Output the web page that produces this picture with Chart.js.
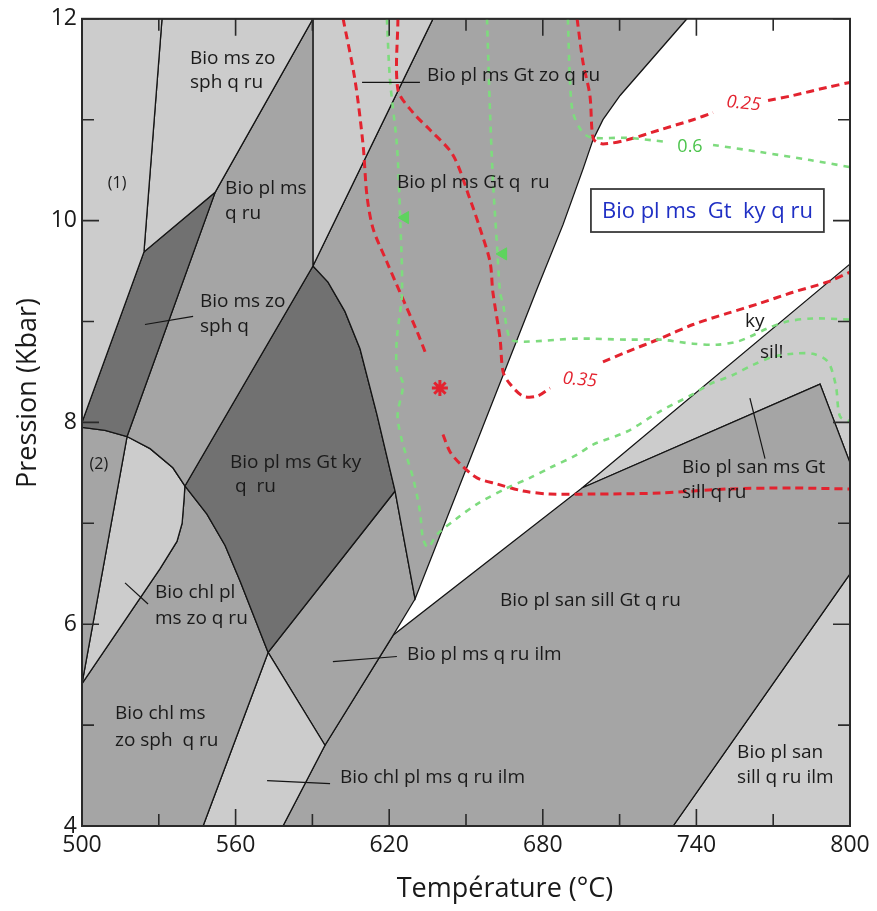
<!DOCTYPE html>
<html><head><meta charset="utf-8">
<script src="https://cdn.jsdelivr.net/npm/chart.js@4/dist/chart.umd.min.js"></script>
<style>html,body{margin:0;padding:0;background:#fff}canvas{display:block}</style>
</head><body>
<canvas id="c" width="877" height="911"></canvas>
<script>
// ---- axes ----
const T_RANGE = [500, 800];
const P_RANGE = [4, 12];
const T_TICK_STEP = 60;
const P_TICK_STEP = 2;
const T_MINOR = [500,530,560,590,620,650,680,710,740,770,800];
const P_MINOR = [4,5,6,7,8,9,10,11,12];

// ---- stability fields [T (°C), P (kbar)] ----
const fieldOne        = [[500,12],[531.25,12],[524.2,9.69],[500,8.0]];
const fieldMsZoSphQRu = [[531.25,12],[590.2,12],[552,10.28],[524.2,9.69]];
const fieldMsZoSphQ   = [[500,8.0],[524.2,9.69],[552,10.28],[517.6,7.86],[509,7.92],[500,7.95]];
const fieldPlMsQRu    = [[590.2,12],[590.2,9.55],[540.2,7.37],[535.5,7.55],[526.6,7.74],[517.6,7.86],[552,10.28]];
const fieldGtZo       = [[590.2,12],[637.1,12],[590.2,9.55]];
const fieldGtQRu      = [[637.1,12],[736.3,12],[710.2,11.24],[703.5,11.0],[699.6,10.80],[695.7,10.51],[687.9,9.96],[677.7,9.32],[630.1,6.25],[622.3,7.32],[615.2,8.08],[608.6,8.73],[602.7,9.10],[596.1,9.39],[590.2,9.55]];
const fieldGtKyQRu    = [[590.2,9.55],[596.1,9.39],[602.7,9.10],[608.6,8.73],[615.2,8.08],[622.3,7.32],[572.7,5.72],[561.7,6.43],[555.9,6.78],[548.8,7.09],[540.2,7.37]];
const fieldTwo        = [[500,7.95],[509,7.92],[517.6,7.86],[500,5.41]];
const fieldChlPlZo    = [[500,5.41],[517.6,7.86],[526.6,7.74],[535.5,7.55],[540.2,7.37],[539.8,7.22],[539.1,7.0],[537.1,6.82],[530.5,6.55]];
const fieldChlMsZo    = [[500,4],[500,5.41],[530.5,6.55],[537.1,6.82],[539.1,7.0],[539.8,7.22],[540.2,7.37],[548.8,7.09],[555.9,6.78],[561.7,6.43],[572.7,5.72],[547.3,4]];
const fieldChlPlIlm   = [[547.3,4],[572.7,5.72],[594.9,4.8],[578.5,4]];
const fieldPlMsIlm    = [[572.7,5.72],[622.3,7.32],[630.1,6.25],[621.5,5.89],[594.9,4.8]];
const fieldSanSillGt  = [[578.5,4],[594.9,4.8],[621.5,5.89],[695.3,7.35],[788.3,8.38],[800,7.6],[800,6.5],[730.9,4]];
const fieldSanMsGt    = [[695.3,7.35],[800,9.57],[800,7.6],[788.3,8.38]];
const fieldSanIlm     = [[730.9,4],[800,6.5],[800,4]];

// ---- isopleths ----
const redIso025a = [[693.4,12],[695.7,11.57],[698.4,11.24],[699.2,10.90],[700,10.80],[703.5,10.76],[712.9,10.80],[725.8,10.90],[738.7,11.0],[746.5,11.07]];
const redIso025b = [[768,11.19],[777.7,11.24],[791,11.32],[800,11.37]];
const redIso035a = [[623.4,12],[623.4,11.30],[629.3,11.07],[635.9,10.90],[644.9,10.65],[651.6,10.21],[655.5,9.92],[659.4,9.59],[660.5,9.29],[663.3,8.83],[664.5,8.50],[667.2,8.38],[672.3,8.26],[677.7,8.26],[682.8,8.34]];
const redIso035b = [[703.5,8.60],[712.9,8.70],[725.8,8.83],[738.7,8.97],[752,9.08],[764.8,9.18],[777.7,9.29],[791,9.39],[800,9.49]];
const redIsoWest = [[602,12],[606.6,11.40],[609.8,10.75],[611.3,10.25],[613.7,9.92],[619.1,9.59],[624.2,9.29],[630.9,8.90],[634,8.70]];
const redIsoLow  = [[641,7.88],[643.75,7.71],[647.7,7.59],[654.3,7.45],[662.1,7.39],[672.3,7.32],[682.8,7.29],[699.6,7.29],[725.8,7.30],[752,7.34],[777.7,7.35],[800,7.34]];
const greenIso06a = [[689.8,12],[690.6,11.40],[691.8,11.07],[695.7,10.87],[699.6,10.82],[712.9,10.82],[728.5,10.78]];
const greenIso06b = [[746.5,10.75],[764.8,10.68],[784.4,10.60],[800,10.53]];
const greenIsoWest = [[619.1,12],[620.3,11.40],[623,10.75],[624.2,10.08],[625,9.29],[623,8.83],[623,8.53],[625.4,8.38],[623.4,8.11],[623.4,8.01],[625.4,7.78],[629.3,7.45],[632,7.12],[633.2,6.85],[635.2,6.76],[638.7,6.89],[646.5,7.05],[654.3,7.19],[666,7.35],[675,7.45],[682.8,7.55],[693.4,7.68],[699.6,7.78],[712.9,7.91],[725.8,8.11],[738.7,8.28],[745.3,8.38],[754.3,8.47],[762.1,8.57],[769.9,8.65],[777.7,8.68],[785.5,8.68],[791.4,8.60],[794.5,8.36],[796.1,8.06],[800,8.01]];
const greenIsoMid = [[658.2,12],[659.4,11.07],[660.5,10.41],[662.1,9.76],[663.3,9.29],[664.5,9.17],[667.2,8.83],[672.3,8.80],[693.4,8.83],[712.9,8.82],[725.8,8.82],[738.7,8.78],[748,8.77],[755.9,8.80],[760.9,8.85],[767.6,8.93],[775.4,9.0],[785.5,9.03],[800,9.02]];
const greenMarks = [[626.2,10.03],[664.5,9.67]];
const redMarks = [[639.8,8.34]];

// ---- leader lines ----
const leader1 = [[609.4,11.37],[632,11.37]];
const leader2 = [[524.6,8.97],[543.4,9.05]];
const leader3 = [[516.8,6.41],[525.8,6.20]];
const leader4 = [[598,5.63],[623,5.68]];
const leader5 = [[572.3,4.45],[596.9,4.42]];
const leader6 = [[760.9,8.24],[766.8,7.64]];

// ---- texts [text, T, P] ----
const fieldLabels = [
 ['Bio ms zo',542.2,11.61],['sph q ru',542.2,11.37],
 ['Bio pl ms',555.9,10.32],['q ru',555.9,10.07],
 ['Bio pl ms Gt zo q ru',634.8,11.44],
 ['Bio pl ms Gt q  ru',623.0,10.38],
 ['Bio ms zo',546.1,9.20],['sph q',546.1,8.95],
 ['Bio pl ms Gt ky',557.8,7.60],[' q  ru',557.8,7.36],
 ['Bio chl pl',528.5,6.31],['ms zo q ru',528.5,6.06],
 ['Bio chl ms',512.9,5.11],['zo sph  q ru',512.9,4.85],
 ['Bio pl ms q ru ilm',627.0,5.70],
 ['Bio pl san sill Gt q ru',663.3,6.23],
 ['Bio chl pl ms q ru ilm',600.8,4.48],
 ['Bio pl san',755.9,4.73],['sill q ru ilm',755.9,4.48],
 ['Bio pl san ms Gt',734.4,7.55],['sill q ru',734.4,7.30],
 ['ky',759.0,9.0],['sil!',764.8,8.69]
];
const smallLabels = [['(1)',513.7,10.37],['(2)',506.6,7.58]];
const redValueLabels = [['0.25',758.4,11.16],['0.35',694.5,8.42]];
const greenValueLabels = [['0.6',737.5,10.73]];
const boxLabel = ['Bio pl ms  Gt  ky q ru',744.3,10.10];

const LIGHT='#cccccc', MED='#a5a5a5', DARK='#717171';
const RED='#e3232f', GREEN='#7edb7e';
const FONT='"Open Sans", "Liberation Sans", sans-serif';

const toXY = a => a.map(([x,y])=>({x,y}));
const poly = (a,c) => ({data: toXY([...a, a[0]]), showLine:true, fill:'shape', backgroundColor:c,
  borderColor:'#151515', borderWidth:1.3, pointRadius:0, tension:0, order:10});
const iso = (a,c,w,d) => ({data: toXY(a), showLine:true, fill:false, borderColor:c, borderWidth:w,
  borderDash:d, borderCapStyle:'butt', pointRadius:0, tension:0.3, order:3});
const leader = a => ({data: toXY(a), showLine:true, fill:false, borderColor:'#151515', borderWidth:1.2, pointRadius:0, order:2});

const datasets = [
 poly(fieldOne,LIGHT), poly(fieldMsZoSphQRu,LIGHT), poly(fieldMsZoSphQ,DARK), poly(fieldPlMsQRu,MED),
 poly(fieldGtZo,LIGHT), poly(fieldGtQRu,MED), poly(fieldGtKyQRu,DARK), poly(fieldTwo,MED),
 poly(fieldChlPlZo,LIGHT), poly(fieldChlMsZo,MED), poly(fieldChlPlIlm,LIGHT), poly(fieldPlMsIlm,MED),
 poly(fieldSanSillGt,MED), poly(fieldSanMsGt,LIGHT), poly(fieldSanIlm,LIGHT),
 iso(greenIso06a,GREEN,2.6,[6,6]), iso(greenIso06b,GREEN,2.6,[6,6]), iso(greenIsoWest,GREEN,2.6,[6,6]), iso(greenIsoMid,GREEN,2.6,[6,6]),
 iso(redIso025a,RED,3,[8,5]), iso(redIso025b,RED,3,[8,5]), iso(redIso035a,RED,3,[8,5]), iso(redIso035b,RED,3,[8,5]),
 iso(redIsoWest,RED,3,[8,5]), iso(redIsoLow,RED,3,[8,5]),
 {data: toXY(greenMarks), showLine:false, pointStyle:'triangle', rotation:270, pointRadius:7, backgroundColor:'#5ed45e', borderColor:'#5ed45e', order:1},
 {data: toXY(redMarks), showLine:false, pointStyle:'star', pointRadius:8, borderWidth:3, backgroundColor:RED, borderColor:RED, order:1},
 leader(leader1), leader(leader2), leader(leader3), leader(leader4), leader(leader5), leader(leader6)
];

const decor = {
 id:'decor',
 afterDatasetsDraw(chart){
  const {ctx, chartArea:a, scales:{x,y}} = chart;
  ctx.save();
  ctx.strokeStyle='#2a2a2a'; ctx.lineWidth=2;
  ctx.strokeRect(a.left, a.top, a.right-a.left, a.bottom-a.top);
  ctx.lineWidth=1.6;
  ctx.beginPath();
  T_MINOR.forEach(t=>{
    const px=x.getPixelForValue(t), len=((t-T_RANGE[0])%T_TICK_STEP===0)?17:12;
    ctx.moveTo(px,a.bottom); ctx.lineTo(px,a.bottom-len);
    ctx.moveTo(px,a.top); ctx.lineTo(px,a.top+len);
  });
  P_MINOR.forEach(p=>{
    const py=y.getPixelForValue(p), len=((p-P_RANGE[0])%P_TICK_STEP===0)?17:12;
    ctx.moveTo(a.left,py); ctx.lineTo(a.left+len,py);
    ctx.moveTo(a.right,py); ctx.lineTo(a.right-len,py);
  });
  ctx.stroke();
  ctx.textBaseline='middle';
  ctx.textAlign='left';
  ctx.fillStyle='#1a1a1a';
  ctx.font='19px '+FONT;
  fieldLabels.forEach(([s,t,p])=>ctx.fillText(s, x.getPixelForValue(t), y.getPixelForValue(p)));
  ctx.textAlign='center';
  ctx.font='16px '+FONT;
  smallLabels.forEach(([s,t,p])=>ctx.fillText(s, x.getPixelForValue(t), y.getPixelForValue(p)));
  ctx.font='italic 18px '+FONT; ctx.fillStyle=RED;
  redValueLabels.forEach(([s,t,p])=>{
    ctx.save(); ctx.translate(x.getPixelForValue(t), y.getPixelForValue(p)); ctx.rotate(0.1);
    ctx.fillText(s,0,0); ctx.restore();
  });
  ctx.font='18px '+FONT; ctx.fillStyle='#4cc44c';
  greenValueLabels.forEach(([s,t,p])=>ctx.fillText(s, x.getPixelForValue(t), y.getPixelForValue(p)));
  ctx.font='22px '+FONT;
  const bx=x.getPixelForValue(boxLabel[1]), by=y.getPixelForValue(boxLabel[2]);
  const w=ctx.measureText(boxLabel[0]).width+22, h=43;
  ctx.fillStyle='#ffffff'; ctx.fillRect(bx-w/2, by-h/2, w, h);
  ctx.strokeStyle='#3a3a3a'; ctx.lineWidth=1.8; ctx.strokeRect(bx-w/2, by-h/2, w, h);
  ctx.fillStyle='#1f2fc4'; ctx.fillText(boxLabel[0], bx, by+1);
  ctx.fillStyle='#1a1a1a';
  ctx.font='27px '+FONT;
  ctx.fillText('Température (°C)', 505, 889);
  ctx.save(); ctx.translate(28, 393); ctx.rotate(-Math.PI/2);
  ctx.fillText('Pression (Kbar)', 0, 0); ctx.restore();
  ctx.restore();
 }
};

new Chart(document.getElementById('c'), {
 type:'scatter',
 data:{datasets},
 options:{
  responsive:false, animation:false, devicePixelRatio:1,
  layout:{padding:{left:0,right:27,top:16,bottom:0}},
  plugins:{legend:{display:false}, tooltip:{enabled:false}},
  scales:{
   x:{type:'linear', min:T_RANGE[0], max:T_RANGE[1],
      ticks:{stepSize:T_TICK_STEP, autoSkip:false, maxRotation:0, padding:6, color:'#1a1a1a', font:{family:FONT, size:23}},
      grid:{display:false, drawTicks:false, tickLength:0}, border:{display:false},
      afterFit(s){ s.height = 85; }},
   y:{type:'linear', min:P_RANGE[0], max:P_RANGE[1],
      ticks:{stepSize:P_TICK_STEP, autoSkip:false, padding:5, color:'#1a1a1a', font:{family:FONT, size:23}},
      grid:{display:false, drawTicks:false, tickLength:0}, border:{display:false},
      afterFit(s){ s.width = 82; }}
  }
 },
 plugins:[decor]
});
</script>
</body></html>
